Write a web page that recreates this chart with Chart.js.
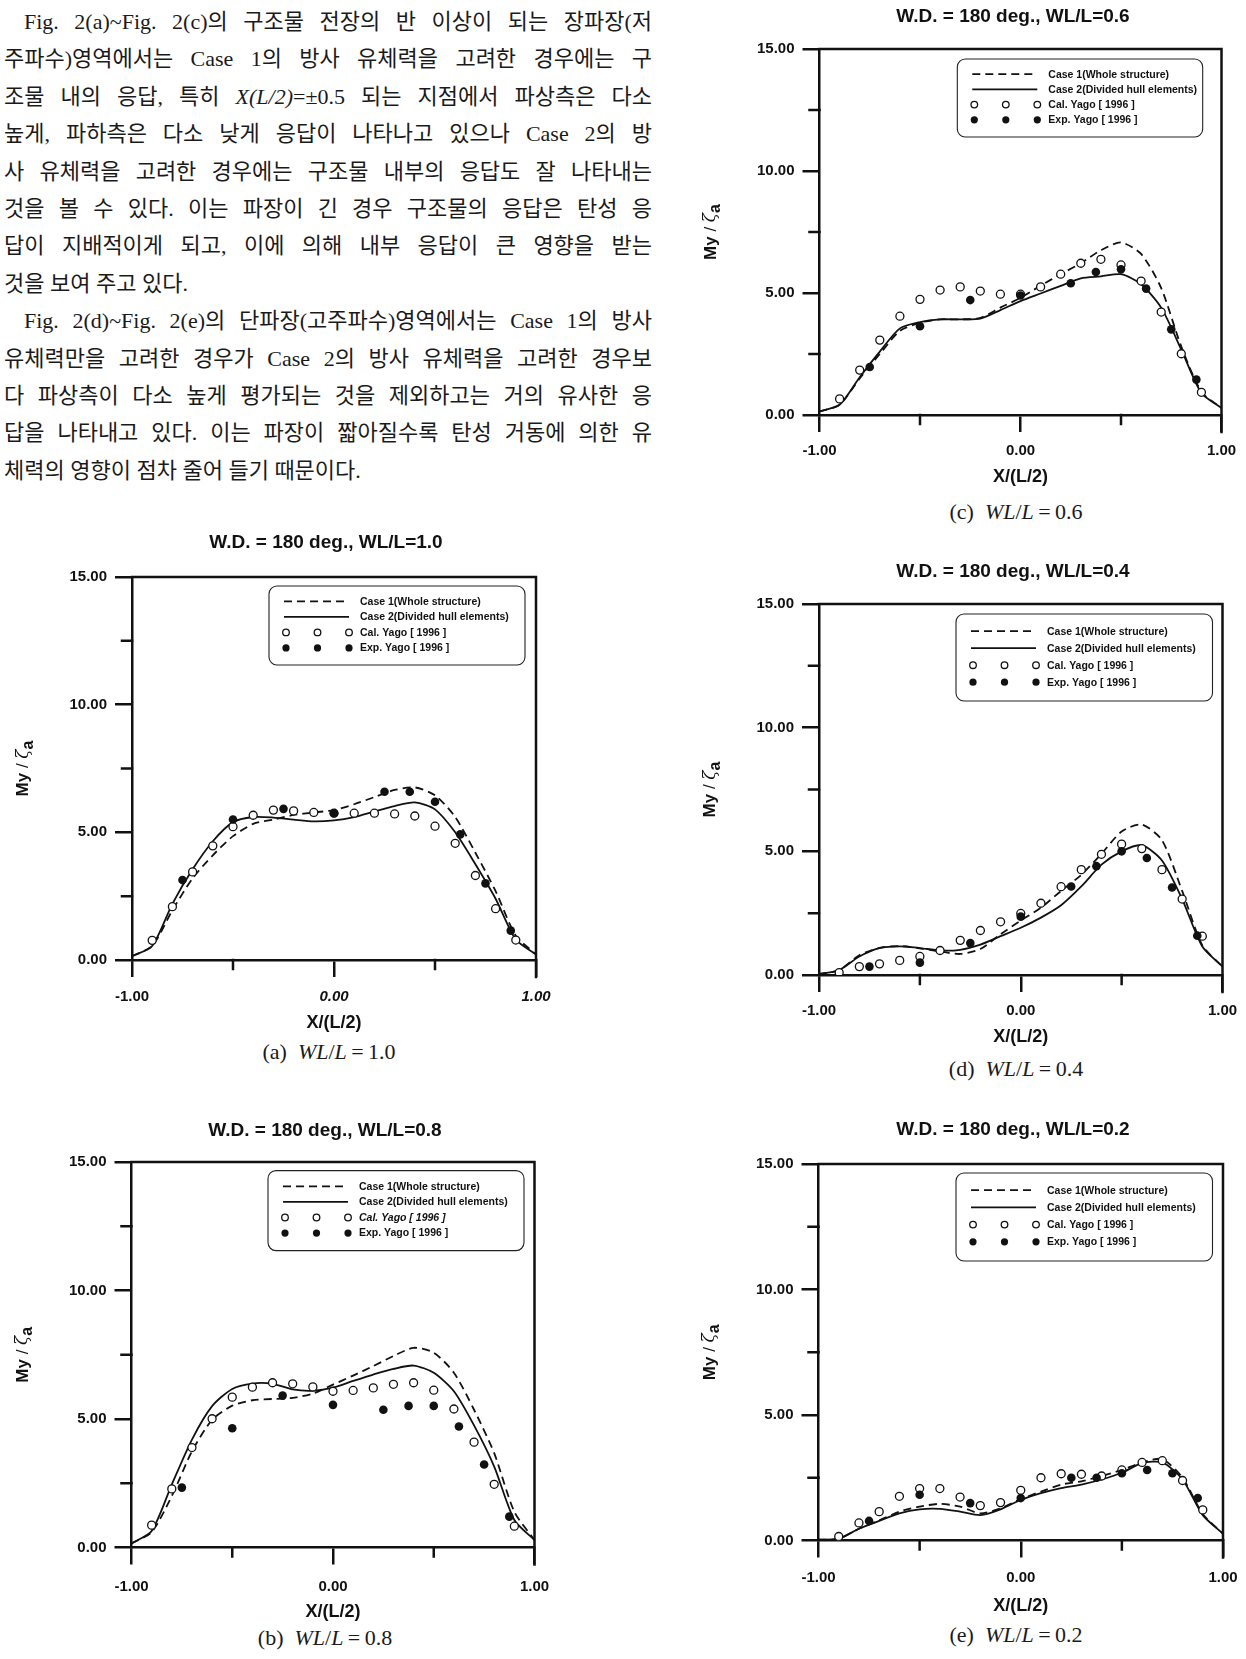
<!DOCTYPE html>
<html lang="ko">
<head>
<meta charset="utf-8">
<title>Fig. 2</title>
<script src="https://cdn.jsdelivr.net/npm/chart.js@4.4.1/dist/chart.umd.min.js"></script>
<style>
  html, body { margin: 0; padding: 0; background: #fff; }
  body { position: relative; width: 1246px; height: 1659px; overflow: hidden; }
  #text { position: absolute; left: 4px; top: 3px; width: 648px;
          font-family: "Liberation Serif", "Noto Sans CJK KR", serif; font-size: 22px; color: #1a1a1a; }
  #text div { height: 37.4px; line-height: 37.4px; text-align: justify; text-align-last: justify; }
  #text .first { text-indent: 20px; }
  #text .end { text-align-last: left; }
  canvas { position: absolute; }
  .cap { position: absolute; transform: translate(-50%, -50%); white-space: nowrap;
         font-family: "Liberation Serif", serif; font-size: 22px; color: #1a1a1a; }
</style>
</head>
<body>
<div id="text">
  <div class="first">Fig. 2(a)~Fig. 2(c)의 구조물 전장의 반 이상이 되는 장파장(저</div>
  <div>주파수)영역에서는 Case 1의 방사 유체력을 고려한 경우에는 구</div>
  <div>조물 내의 응답, 특히 <i>X(L/2)</i>=±0.5 되는 지점에서 파상측은 다소</div>
  <div>높게, 파하측은 다소 낮게 응답이 나타나고 있으나 Case 2의 방</div>
  <div>사 유체력을 고려한 경우에는 구조물 내부의 응답도 잘 나타내는</div>
  <div>것을 볼 수 있다. 이는 파장이 긴 경우 구조물의 응답은 탄성 응</div>
  <div>답이 지배적이게 되고, 이에 의해 내부 응답이 큰 영향을 받는</div>
  <div class="end">것을 보여 주고 있다.</div>
  <div class="first">Fig. 2(d)~Fig. 2(e)의 단파장(고주파수)영역에서는 Case 1의 방사</div>
  <div>유체력만을 고려한 경우가 Case 2의 방사 유체력을 고려한 경우보</div>
  <div>다 파상측이 다소 높게 평가되는 것을 제외하고는 거의 유사한 응</div>
  <div>답을 나타내고 있다. 이는 파장이 짧아질수록 탄성 거동에 의한 유</div>
  <div class="end">체력의 영향이 점차 줄어 들기 때문이다.</div>
</div>

<canvas id="figA"></canvas>
<canvas id="figB"></canvas>
<canvas id="figC"></canvas>
<canvas id="figD"></canvas>
<canvas id="figE"></canvas>

<script>
// stations along the hull, X/(L/2)
const stationX = [-1, -0.9, -0.8, -0.7, -0.6, -0.5, -0.4, -0.3, -0.2, -0.1, 0, 0.1, 0.2, 0.3, 0.4, 0.5, 0.6, 0.7, 0.8, 0.9, 1];
const calX = [-0.9, -0.8, -0.7, -0.6, -0.5, -0.4, -0.3, -0.2, -0.1, 0, 0.1, 0.2, 0.3, 0.4, 0.5, 0.6, 0.7, 0.8, 0.9];
const expX = [-0.75, -0.5, -0.25, 0, 0.25, 0.375, 0.5, 0.625, 0.75, 0.875];

const xTicks = [-1, 0, 1];
const yTicks = [0, 5, 10, 15];
const seriesLabels = ['Case 1(Whole structure)', 'Case 2(Divided hull elements)', 'Cal. Yago [ 1996 ]', 'Exp. Yago [ 1996 ]'];

// WL/L = 1.0
const case1_10 = [0.15, 0.55, 1.95, 3.2, 4.1, 4.85, 5.33, 5.5, 5.68, 5.78, 5.87, 6.1, 6.38, 6.66, 6.76, 6.45, 5.6, 4.2, 2.7, 0.95, 0.22];
const case2_10 = [0.15, 0.55, 2.2, 3.55, 4.65, 5.4, 5.6, 5.58, 5.5, 5.43, 5.47, 5.6, 5.82, 6.03, 6.17, 5.9, 5.0, 3.75, 2.4, 0.8, 0.22];
const cal_10 = [0.77, 2.09, 3.45, 4.47, 5.22, 5.67, 5.87, 5.84, 5.78, 5.75, 5.75, 5.75, 5.72, 5.64, 5.24, 4.57, 3.31, 2.01, 0.78];
const exp_10 = [3.13, 5.5, 5.92, 5.75, 6.59, 6.59, 6.2, 4.92, 3.0, 1.15];

// WL/L = 0.8
const case1_08 = [0.16, 0.6, 2.0, 3.74, 4.97, 5.52, 5.73, 5.78, 5.82, 5.99, 6.34, 6.69, 7.06, 7.45, 7.77, 7.58, 6.8, 5.36, 3.67, 1.39, 0.29];
const case2_08 = [0.16, 0.64, 2.45, 4.2, 5.5, 6.17, 6.38, 6.37, 6.15, 6.1, 6.22, 6.48, 6.73, 6.95, 7.08, 6.8, 6.08, 4.75, 3.15, 1.07, 0.29];
const cal_08 = [0.87, 2.28, 3.89, 5.01, 5.85, 6.24, 6.41, 6.37, 6.25, 6.08, 6.11, 6.21, 6.35, 6.41, 6.12, 5.39, 4.1, 2.46, 0.83];
const exp_08 = [2.33, 4.64, 5.91, 5.55, 5.36, 5.51, 5.51, 4.71, 3.23, 1.2];

// WL/L = 0.6
const case1_06 = [0.15, 0.42, 1.5, 2.5, 3.45, 3.78, 3.92, 3.92, 3.98, 4.4, 4.8, 5.3, 5.77, 6.22, 6.75, 7.07, 6.6, 5.2, 2.8, 0.95, 0.29];
const case2_06 = [0.15, 0.42, 1.55, 2.6, 3.55, 3.81, 3.92, 3.92, 3.95, 4.3, 4.67, 4.98, 5.29, 5.6, 5.68, 5.77, 5.36, 4.4, 2.68, 0.9, 0.29];
const cal_06 = [0.66, 1.84, 3.07, 4.05, 4.74, 5.12, 5.25, 5.08, 4.95, 4.95, 5.25, 5.77, 6.22, 6.38, 6.15, 5.49, 4.22, 2.51, 0.93];
const exp_06 = [1.97, 3.64, 4.71, 4.9, 5.4, 5.86, 5.97, 5.18, 3.51, 1.45];

// WL/L = 0.4
const case1_04 = [0.04, 0.2, 0.8, 1.1, 1.17, 1.08, 0.95, 0.85, 1.05, 1.65, 2.2, 2.72, 3.4, 4.05, 4.9, 5.8, 6.08, 5.45, 3.4, 1.2, 0.34];
const case2_04 = [0.04, 0.2, 0.75, 1.09, 1.16, 1.09, 0.99, 1.02, 1.23, 1.57, 1.91, 2.32, 2.82, 3.58, 4.46, 5.0, 5.25, 4.63, 3.07, 1.15, 0.34];
const cal_04 = [0.1, 0.34, 0.45, 0.59, 0.75, 0.99, 1.4, 1.8, 2.15, 2.49, 2.9, 3.57, 4.26, 4.88, 5.29, 5.11, 4.26, 3.07, 1.57];
const exp_04 = [0.34, 0.5, 1.29, 2.36, 3.58, 4.4, 5.0, 4.73, 3.54, 1.59];

// WL/L = 0.2
const case1_02 = [0.03, 0.07, 0.47, 0.8, 1.15, 1.35, 1.46, 1.35, 1.08, 1.28, 1.65, 1.95, 2.23, 2.36, 2.57, 2.81, 3.11, 3.24, 2.5, 1.05, 0.27];
const case2_02 = [0.03, 0.07, 0.47, 0.78, 1.08, 1.24, 1.26, 1.15, 1.01, 1.24, 1.62, 1.89, 2.09, 2.23, 2.43, 2.7, 3.08, 3.11, 2.43, 1.01, 0.27];
const cal_02 = [0.16, 0.7, 1.15, 1.76, 2.07, 2.07, 1.73, 1.39, 1.51, 2.0, 2.5, 2.66, 2.64, 2.57, 2.81, 3.11, 3.18, 2.39, 1.22];
const exp_02 = [0.78, 1.82, 1.49, 1.69, 2.5, 2.5, 2.68, 2.81, 2.68, 1.69];

const SANS = '"Liberation Sans", Arial, sans-serif';
const INK = '#111';
const TICK_LEN = 17;
const TITLE_SIZE = 19;
const AXIS_TITLE_SIZE = 18;

// frame, minor ticks, boxed legend and the My/ζa axis title
const decor = {
  id: 'decor',
  afterDraw(chart, args, o) {
    const { ctx, chartArea: a, scales: { x, y } } = chart;
    ctx.save();
    ctx.strokeStyle = INK;
    ctx.lineWidth = 2.5;
    ctx.lineCap = 'square';
    ctx.beginPath();
    ctx.moveTo(a.left, a.top);
    ctx.lineTo(a.right, a.top);
    ctx.lineTo(a.right, a.bottom + TICK_LEN);
    [-0.5, 0.5].forEach(v => {
      const px = x.getPixelForValue(v);
      ctx.moveTo(px, a.bottom);
      ctx.lineTo(px, a.bottom + 9);
    });
    [2.5, 7.5, 12.5].forEach(v => {
      const py = y.getPixelForValue(v);
      ctx.moveTo(a.left - 10, py);
      ctx.lineTo(a.left, py);
    });
    ctx.stroke();
    ctx.lineCap = 'butt';

    // legend box
    const L = o.legend;
    const bx = a.left + L.dx, by = a.top + L.dy;
    ctx.lineWidth = 1.1;
    ctx.strokeStyle = '#222';
    ctx.fillStyle = '#fff';
    ctx.beginPath();
    ctx.roundRect(bx, by, L.w, L.h, 8);
    ctx.fill();
    ctx.stroke();
    chart.data.datasets.forEach((ds, i) => {
      const ry = by + L.row0 + i * L.gap;
      if (ds.showLine === false) {
        [17, 48.5, 80].forEach(mx => {
          ctx.beginPath();
          ctx.arc(bx + mx, ry, ds.pointRadius - 0.7, 0, Math.PI * 2);
          ctx.fillStyle = ds.pointBackgroundColor;
          ctx.fill();
          if (ds.pointBorderWidth) {
            ctx.lineWidth = ds.pointBorderWidth;
            ctx.strokeStyle = ds.pointBorderColor;
            ctx.stroke();
          }
        });
      } else {
        ctx.setLineDash(ds.borderDash || []);
        ctx.lineWidth = ds.borderWidth;
        ctx.strokeStyle = ds.borderColor;
        ctx.beginPath();
        ctx.moveTo(bx + 15, ry);
        ctx.lineTo(bx + 80, ry);
        ctx.stroke();
        ctx.setLineDash([]);
      }
      ctx.fillStyle = INK;
      ctx.font = (o.italicCal && i === 2 ? 'italic ' : '') + 'bold 10.5px ' + SANS;
      ctx.textAlign = 'left';
      ctx.textBaseline = 'middle';
      ctx.fillText(ds.label, bx + 91, ry + 0.5);
    });

    // rotated y title with subscript
    ctx.translate(a.left + o.yTitleDx, (a.top + a.bottom) / 2);
    ctx.rotate(-Math.PI / 2);
    const parts = [
      { t: 'My', f: 'bold 17px ' + SANS, dy: 0 },
      { t: ' / ', f: '17px ' + SANS, dy: 0 },
      { t: 'ζ', f: 'italic 17px "DejaVu Serif", serif', dy: 0 },
      { t: 'a', f: 'bold 16px ' + SANS, dy: 5 }
    ];
    let total = 0;
    parts.forEach(p => { ctx.font = p.f; p.w = ctx.measureText(p.t).width; total += p.w; });
    let px = -total / 2;
    ctx.fillStyle = INK;
    ctx.textBaseline = 'middle';
    parts.forEach(p => { ctx.font = p.f; ctx.fillText(p.t, px, p.dy); px += p.w; });
    ctx.restore();
  }
};

function pairs(xs, ys) {
  return xs.map((x, i) => ({ x, y: ys[i] }));
}

function drawFigure(id, lay, ratio, c1, c2, cal, exp) {
  const canvas = document.getElementById(id);
  const p = lay.plot;
  const plotW = p.r - p.l, plotH = p.b - p.t;

  const cl = Math.round(p.l - 130);
  const LY = p.l - cl;
  const lh = TITLE_SIZE * 1.2;
  const padBottom = p.t - lay.titleY - lh / 2;
  const ct = Math.round(p.t - (4 + lh + padBottom));
  const padTop = (p.t - ct) - lh - padBottom;

  const rxRaw = LY + 2 * (lay.titleCx - (p.l + p.r) / 2);
  const W = Math.round(LY + plotW + rxRaw);
  const RX = W - LY - plotW;
  const bxRaw = lay.xTitleDy + AXIS_TITLE_SIZE * 1.2 / 2;
  const H = Math.round((p.t - ct) + plotH + bxRaw);
  const BX = H - (p.t - ct) - plotH;

  canvas.width = W;
  canvas.height = H;
  canvas.style.left = cl + 'px';
  canvas.style.top = ct + 'px';
  canvas.style.width = W + 'px';
  canvas.style.height = H + 'px';

  const tickFont = ctx => ({
    family: SANS, size: 15, weight: 'bold',
    style: lay.italicTicks && ctx.tick && ctx.tick.value > -1 ? 'italic' : 'normal'
  });

  new Chart(canvas.getContext('2d'), {
    type: 'line',
    data: {
      datasets: [
        { label: seriesLabels[0], data: pairs(stationX, c1), borderColor: INK, borderWidth: 1.8,
          borderDash: [8, 5], pointRadius: 0, tension: 0.25, fill: false, order: 2 },
        { label: seriesLabels[1], data: pairs(stationX, c2), borderColor: INK, borderWidth: 1.8,
          pointRadius: 0, tension: 0.25, fill: false, order: 2 },
        { label: seriesLabels[2], data: pairs(calX, cal), showLine: false, pointRadius: 4,
          pointBorderWidth: 1.3, pointBorderColor: INK, pointBackgroundColor: '#fff', order: 1 },
        { label: seriesLabels[3], data: pairs(expX, exp), showLine: false, pointRadius: 4.3,
          pointBorderWidth: 0, pointBorderColor: INK, pointBackgroundColor: INK, order: 0 }
      ]
    },
    options: {
      responsive: false,
      animation: false,
      events: [],
      layout: { padding: 0 },
      scales: {
        x: {
          type: 'linear', min: -1, max: 1,
          afterBuildTicks: s => { s.ticks = xTicks.map(value => ({ value })); },
          afterFit: s => { s.height = BX; },
          ticks: { color: INK, font: tickFont, padding: lay.tickDy - TICK_LEN - 9,
                   maxRotation: 0, callback: v => v.toFixed(2) },
          grid: { drawOnChartArea: false, drawTicks: true, tickLength: TICK_LEN,
                  lineWidth: 2.5, tickWidth: 2.5, color: INK, tickColor: INK },
          border: { display: true, width: 2.5, color: INK },
          title: { display: true, text: 'X/(L/2)', color: INK, padding: 0,
                   font: { family: SANS, size: AXIS_TITLE_SIZE, weight: 'bold' } }
        },
        y: {
          type: 'linear', min: 0, max: 15,
          afterBuildTicks: s => { s.ticks = yTicks.map(value => ({ value })); },
          afterFit: s => { s.width = LY; },
          ticks: { color: INK, font: { family: SANS, size: 15, weight: 'bold' }, padding: 8,
                   callback: v => v.toFixed(2) },
          grid: { drawOnChartArea: false, drawTicks: true, tickLength: TICK_LEN,
                  lineWidth: 2.5, tickWidth: 2.5, color: INK, tickColor: INK },
          border: { display: true, width: 2.5, color: INK }
        },
        gap: {
          type: 'linear', position: 'right',
          afterFit: s => { s.width = RX; },
          ticks: { display: false },
          grid: { display: false, drawTicks: false },
          border: { display: false }
        }
      },
      plugins: {
        legend: { display: false },
        tooltip: { enabled: false },
        title: {
          display: true, text: 'W.D. = 180 deg., WL/L=' + ratio, color: INK,
          font: { family: SANS, size: TITLE_SIZE, weight: 'bold' },
          padding: { top: padTop, bottom: padBottom }
        },
        decor: { legend: lay.legend, yTitleDx: -108.5, italicCal: lay.italicCal }
      }
    },
    plugins: [decor]
  });

  const cap = document.createElement('div');
  cap.className = 'cap';
  cap.style.left = lay.cap[0] + 'px';
  cap.style.top = lay.cap[1] + 'px';
  cap.innerHTML = '(' + lay.tag + ')&nbsp;&nbsp;<i>WL</i>/<i>L</i>&thinsp;=&thinsp;' + ratio;
  document.body.appendChild(cap);
}

drawFigure('figA', {
  tag: 'a', plot: { l: 132, r: 536, t: 577, b: 960 }, titleY: 543, titleCx: 325.8,
  tickDy: 37, xTitleDy: 63.6, italicTicks: true, cap: [329, 1052],
  legend: { dx: 137, dy: 9, w: 256, h: 79, row0: 15.4, gap: 15.5 }
}, '1.0', case1_10, case2_10, cal_10, exp_10);

drawFigure('figB', {
  tag: 'b', plot: { l: 131.5, r: 534.5, t: 1162, b: 1547.5 }, titleY: 1130.3, titleCx: 325,
  tickDy: 39, xTitleDy: 64.8, italicCal: true, cap: [325, 1638.3],
  legend: { dx: 136.5, dy: 8.6, w: 256, h: 80, row0: 15.7, gap: 15.6 }
}, '0.8', case1_08, case2_08, cal_08, exp_08);

drawFigure('figC', {
  tag: 'c', plot: { l: 819.5, r: 1221.5, t: 49, b: 415 }, titleY: 17, titleCx: 1013,
  tickDy: 36.3, xTitleDy: 61.7, cap: [1016, 511.5],
  legend: { dx: 137.8, dy: 10, w: 245.4, h: 78, row0: 15.2, gap: 15.2 }
}, '0.6', case1_06, case2_06, cal_06, exp_06);

drawFigure('figD', {
  tag: 'd', plot: { l: 819, r: 1222.5, t: 604, b: 975 }, titleY: 572, titleCx: 1013,
  tickDy: 36, xTitleDy: 62, cap: [1016, 1069],
  legend: { dx: 137, dy: 10, w: 256.5, h: 87, row0: 17.2, gap: 17 }
}, '0.4', case1_04, case2_04, cal_04, exp_04);

drawFigure('figE', {
  tag: 'e', plot: { l: 818.5, r: 1223, t: 1164, b: 1540.5 }, titleY: 1130, titleCx: 1013,
  tickDy: 37.2, xTitleDy: 65.5, cap: [1016, 1635],
  legend: { dx: 137.5, dy: 9, w: 256.5, h: 88, row0: 17.2, gap: 17.2 }
}, '0.2', case1_02, case2_02, cal_02, exp_02);
</script>
</body>
</html>
